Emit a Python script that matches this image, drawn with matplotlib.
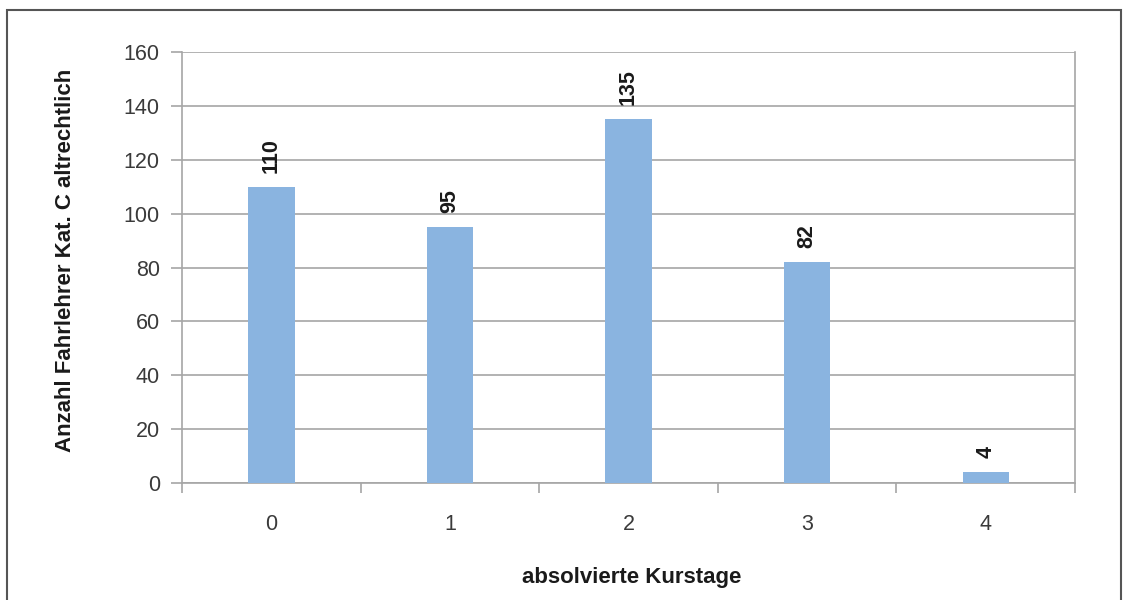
import matplotlib.pyplot as plt
from matplotlib.patches import Rectangle
plt.rcParams['font.family'] = ['Liberation Sans', 'DejaVu Sans']

kurstage = ['0', '1', '2', '3', '4']
anzahl = [110, 95, 135, 82, 4]

fig = plt.figure(figsize=(11.31, 6), dpi=100)
ax = fig.add_axes([0.161, 0.195, 0.7895, 0.7183])

x = list(range(len(kurstage)))
ax.bar(x, anzahl, width=0.26, color='#8ab4e0', zorder=3)
for xi, v in zip(x, anzahl):
    ax.annotate(str(v), (xi, v), xytext=(0, 10), textcoords='offset points',
                rotation=90, ha='center', va='bottom', fontsize=15.5,
                fontweight='bold', color='#1a1a1a')

ax.set_xlim(-0.5, 4.5)
ax.set_ylim(0, 160)
ax.set_yticks(range(0, 161, 20))
ax.yaxis.grid(True, color='#a6a6a6', linewidth=1.2, zorder=0)
ax.set_xticks(x)
ax.set_xticklabels(kurstage)
ax.set_xticks([i - 0.5 for i in range(len(kurstage) + 1)], minor=True)
ax.tick_params(axis='x', which='major', length=0, pad=22, labelsize=15.5, labelcolor='#3a3a3a')
ax.tick_params(axis='x', which='minor', length=7, width=1.2, color='#a6a6a6')
ax.tick_params(axis='y', length=8, width=1.2, color='#a6a6a6', pad=8,
               labelsize=15.5, labelcolor='#3a3a3a')

for s in ['left', 'right', 'bottom']:
    ax.spines[s].set_color('#a6a6a6')
    ax.spines[s].set_linewidth(1.2)
ax.spines['top'].set_visible(False)

fig.text(66 / 1131, 1 - 260 / 600, 'Anzahl Fahrlehrer Kat. C altrechtlich',
         rotation=90, ha='center', va='center', fontsize=16, fontweight='bold',
         color='#1a1a1a')
fig.text(632 / 1131, 1 - 577 / 600, 'absolvierte Kurstage', ha='center',
         va='center', fontsize=16, fontweight='bold', color='#1a1a1a')

fig.patches.append(Rectangle((0.0062, -0.05), 0.9852, 0.9833 + 0.05,
                             transform=fig.transFigure, fill=False,
                             edgecolor='#555555', linewidth=1.5))

plt.savefig('out.png', dpi=100)
